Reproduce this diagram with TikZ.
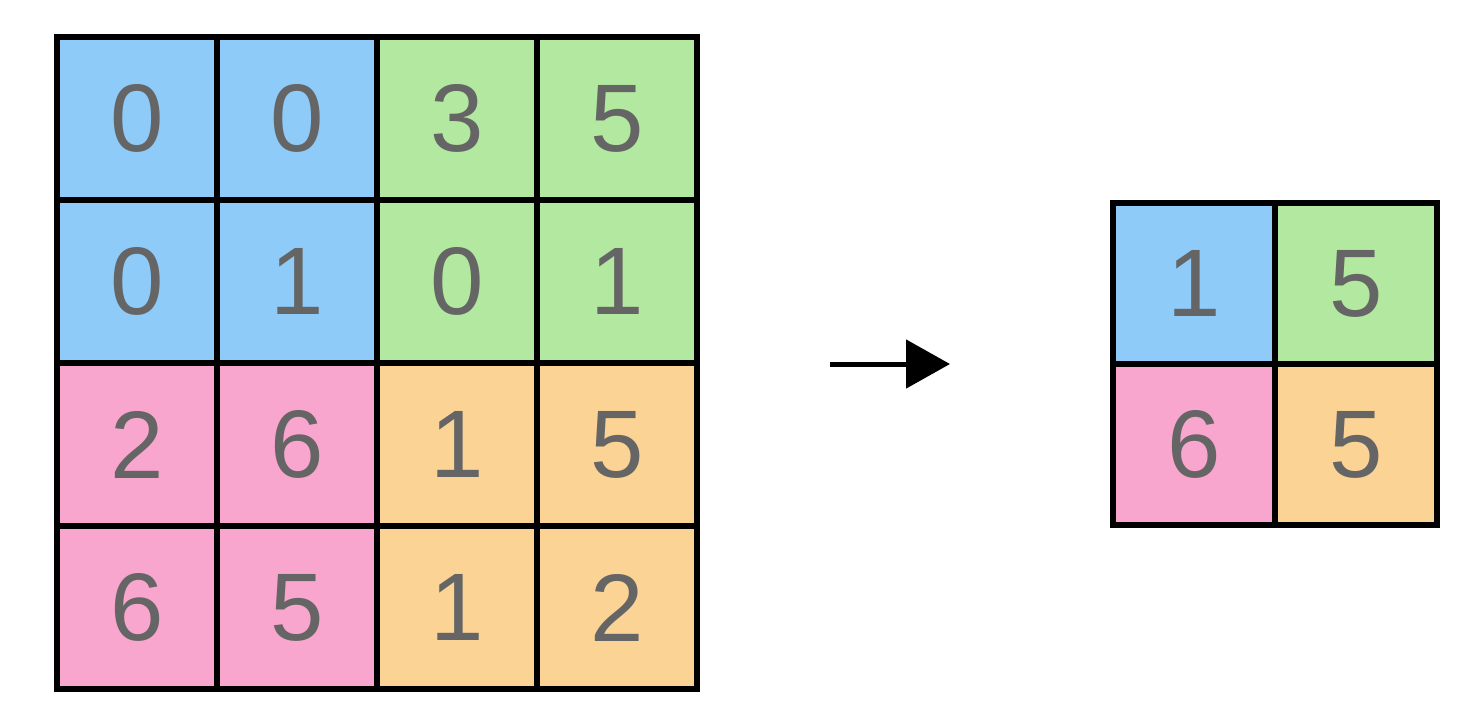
\documentclass[tikz,border=0pt]{standalone}
\usepackage{fontspec}
\setmainfont{Liberation Sans}
\usetikzlibrary{arrows.meta}
\definecolor{cb}{HTML}{8ECBF9}
\definecolor{cg}{HTML}{B3E8A0}
\definecolor{cp}{HTML}{F9A6CF}
\definecolor{co}{HTML}{FBD394}
\definecolor{tx}{HTML}{656565}
\begin{document}
\begin{tikzpicture}[x=0.5pt,y=-0.5pt,
  cell/.style={draw=black,line width=3pt,inner sep=0pt,text=tx,
    font=\fontsize{48}{48}\selectfont},
  lcell/.style={cell,minimum width=80pt,minimum height=81.5pt},
  rcell/.style={cell,minimum width=81pt,minimum height=80.5pt}]
\fill[white] (0,0) rectangle (1478,720);
\foreach \r/\row in {0/{cb/0,cb/0,cg/3,cg/5},1/{cb/0,cb/1,cg/0,cg/1},2/{cp/2,cp/6,co/1,co/5},3/{cp/6,cp/5,co/1,co/2}}{
  \foreach \c/\v [count=\k from 0] in \row {
    \node[lcell,fill=\c] (L\r\k) at (57+80+160*\k, 37+81.5+163*\r) {\v};
  }
}
\node[rcell,fill=cb] (R00) at (1113+81,203+80.5) {1};
\node[rcell,fill=cg] (R01) at (1113+81+162,203+80.5) {5};
\node[rcell,fill=cp] (R10) at (1113+81,203+80.5+161) {6};
\node[rcell,fill=co] (R11) at (1113+81+162,203+80.5+161) {5};
\coordinate (a1) at (830,364);
\coordinate (a2) at (950,364);
\draw[line width=2.5pt,-{Triangle[length=22pt,width=24pt]}] (a1) -- (a2);
\end{tikzpicture}
\end{document}
